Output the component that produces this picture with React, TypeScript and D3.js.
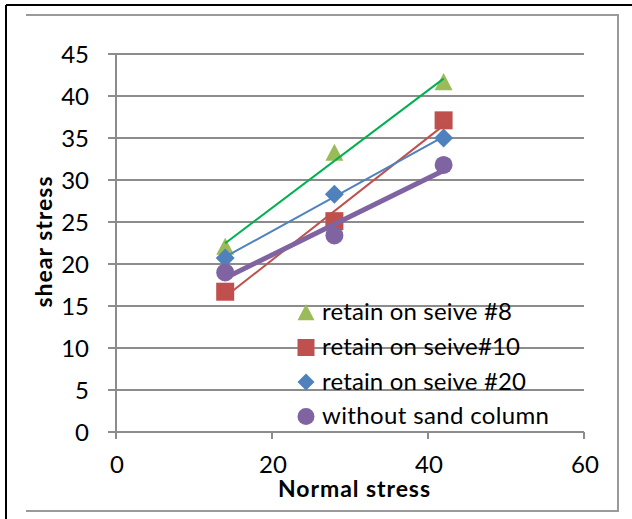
import React from "react";
import * as d3 from "d3";

const normalStress = [14, 28, 42];
const seive8 = [22.0, 33.2, 41.6];
const seive10 = [16.7, 25.1, 37.1];
const seive20 = [20.7, 28.3, 35.0];
const withoutSand = [19.0, 23.4, 31.8];
const seriesNames = ["retain on seive #8", "retain on seive#10", "retain on seive #20", "without sand column"];
const xTicks = [0, 20, 40, 60];
const yTicks = [0, 5, 10, 15, 20, 25, 30, 35, 40, 45];

const W = 632, H = 519;
const FONT = "Lato, 'Open Sans', sans-serif";

const x = d3.scaleLinear().domain([0, 60]).range([116, 584]);
const y = d3.scaleLinear().domain([0, 45]).range([432, 54]);

function fit(xs: number[], ys: number[]) {
  const mx = d3.mean(xs)!, my = d3.mean(ys)!;
  let num = 0, den = 0;
  xs.forEach((xv, i) => { num += (xv - mx) * (ys[i] - my); den += (xv - mx) ** 2; });
  const b = num / den, a = my - b * mx;
  return (v: number) => a + b * v;
}

const series = [
  { name: seriesNames[0], values: seive8, fill: "#9BBB59", line: "#00B050", lw: 2, shape: "triangle", tl: 190 },
  { name: seriesNames[1], values: seive10, fill: "#C0504D", line: "#C0504D", lw: 2, shape: "square", tl: 198 },
  { name: seriesNames[2], values: seive20, fill: "#4F81BD", line: "#4F81BD", lw: 2, shape: "diamond", tl: 204 },
  { name: seriesNames[3], values: withoutSand, fill: "#8064A2", line: "#8064A2", lw: 5, shape: "circle", tl: 227 },
];

function Marker({ shape, cx, cy, fill, s }: { shape: string; cx: number; cy: number; fill: string; s: number }) {
  const h = s / 2;
  if (shape === "triangle") return <path d={`M${cx},${cy - h * 1.05}L${cx + h},${cy + h * 0.85}L${cx - h},${cy + h * 0.85}Z`} fill={fill} />;
  if (shape === "square") return <rect x={cx - h} y={cy - h} width={s} height={s} fill={fill} />;
  if (shape === "diamond") return <path d={`M${cx},${cy - h}L${cx + h},${cy}L${cx},${cy + h}L${cx - h},${cy}Z`} fill={fill} />;
  return <circle cx={cx} cy={cy} r={h} fill={fill} />;
}

export default function App() {
  const lineGen = d3.line<number>().x((d) => x(d[0])).y((d) => y(d[1])) as any;
  return (
    <svg width={W} height={H} style={{ position: "absolute", left: 0, top: 0 }} fontFamily={FONT}>
      <rect x={0} y={0} width={W} height={H} fill="#fff" />
      <line x1={6} y1={5} x2={W} y2={5} stroke="#000" strokeWidth={2} />
      <line x1={6} y1={5} x2={6} y2={H} stroke="#000" strokeWidth={2} />
      <polyline points={`26,15 618,15 618,511 26,511`} fill="none" stroke="#9a9a9a" strokeWidth={2} />
      {yTicks.map((t) => (
        <line key={t} x1={108} x2={584} y1={y(t)} y2={y(t)} stroke="#8c8c8c" strokeWidth={2} />
      ))}
      <line x1={116} x2={116} y1={54} y2={432} stroke="#8c8c8c" strokeWidth={2} />
      {xTicks.map((t) => (
        <line key={t} x1={x(t)} x2={x(t)} y1={432} y2={439} stroke="#8c8c8c" strokeWidth={2} />
      ))}
      {yTicks.map((t) => (
        <text key={t} x={89} y={y(t)} dy="0.36em" textAnchor="end" fontSize={24} fill="#000">{t}</text>
      ))}
      {xTicks.map((t) => (
        <text key={t} x={x(t) + 1} y={473} textAnchor="middle" fontSize={24} fill="#000">{t}</text>
      ))}
      <text x={354} y={497} textAnchor="middle" fontSize={23} fontWeight="bold" textLength={152}>Normal stress</text>
      <text transform={`translate(52,242) rotate(-90)`} textAnchor="middle" fontSize={23} fontWeight="bold" textLength={131}>shear stress</text>
      {series.map((s) =>
        s.values.map((v, i) => (
          <Marker key={s.name + i} shape={s.shape} cx={x(normalStress[i])} cy={y(v)} fill={s.fill} s={s.shape === "diamond" ? 19 : 18} />
        ))
      )}
      {series.map((s) => {
        const f = fit(normalStress, s.values);
        const x0 = d3.min(normalStress)!, x1 = d3.max(normalStress)!;
        return <path key={s.name} d={lineGen([[x0, f(x0)], [x1, f(x1)]])} stroke={s.line} strokeWidth={s.lw} fill="none" />;
      })}
      {series.map((s, i) => (
        <g key={s.name}>
          <Marker shape={s.shape} cx={306} cy={313 + i * 34.5} fill={s.fill} s={17} />
          <text x={322} y={320 + i * 34.8} fontSize={24} fill="#000" textLength={s.tl}>{s.name}</text>
        </g>
      ))}
    </svg>
  );
}
